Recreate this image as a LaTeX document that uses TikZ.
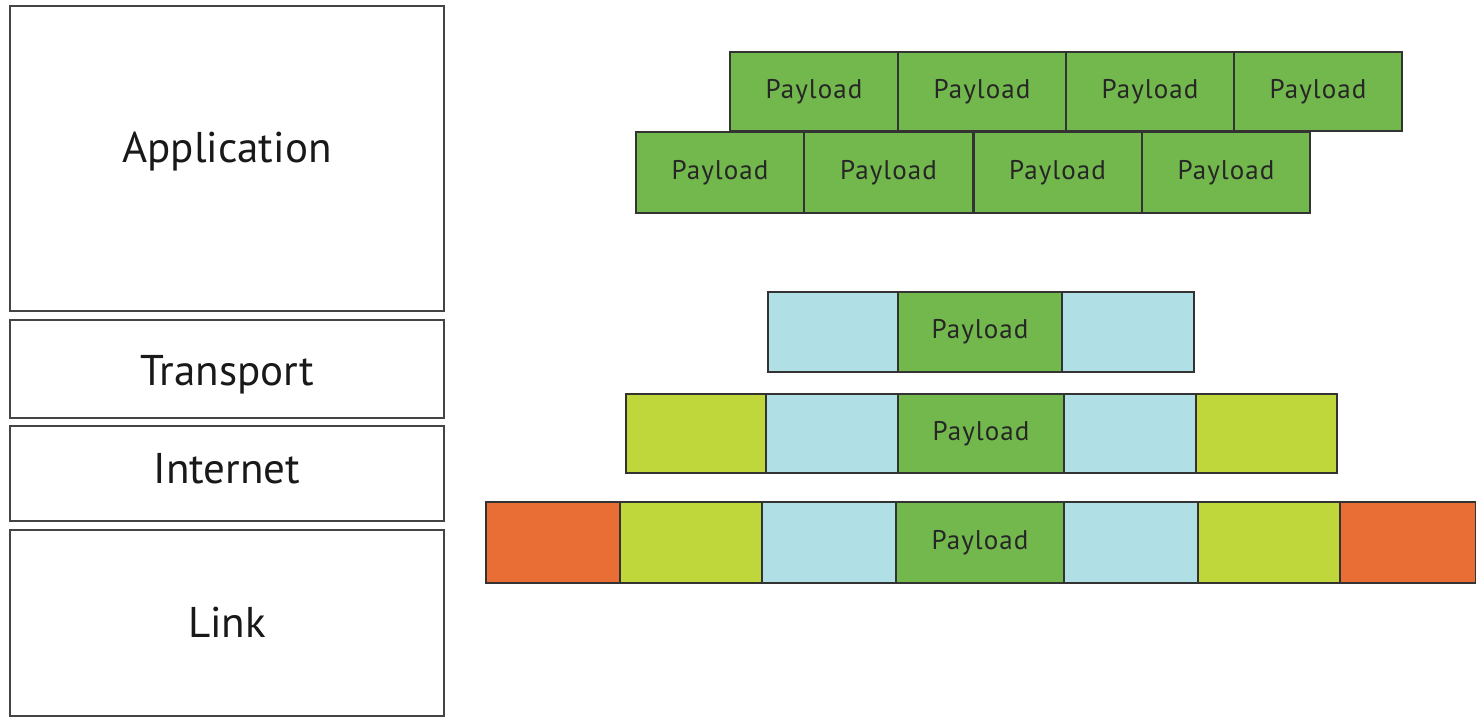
\documentclass[tikz,border=0pt]{standalone}
\usepackage{fontspec}
\setmainfont{PT Sans}
\newfontfamily\payfont[LetterSpace=4]{PT Sans}
\definecolor{pgreen}{HTML}{72B84C}
\definecolor{pblue}{HTML}{B0DFE5}
\definecolor{plime}{HTML}{BFD73B}
\definecolor{porange}{HTML}{E96E35}
\definecolor{edge}{HTML}{333333}
\definecolor{ledge}{HTML}{444444}
\tikzset{
  layer/.style={draw=ledge, line width=1.8pt, fill=white, inner sep=0pt},
  layertext/.style={inner sep=0pt, font=\fontsize{43}{45}\selectfont, text=black!90},
  cell/.style={draw=edge, line width=1.6pt, inner sep=0pt,
    font=\payfont\fontsize{27}{29}\selectfont, text=black!85},
}
\newcommand\cellbox[7]{%
  \node[cell, fill=#6, minimum width={(#4-#2)*1pt}, minimum height={(#5-#3)*1pt}]
    (#1) at ({(#2+#4)/2},{(#3+#5)/2}) {#7};}
\newcommand\layerbox[5]{%
  \node[layer, minimum width={(#4-#2)*1pt}, minimum height={(#5-#3)*1pt}]
    (#1) at ({(#2+#4)/2},{(#3+#5)/2}) {};}
\begin{document}
\begin{tikzpicture}[x=1pt,y=-1pt]
\useasboundingbox (0,0) rectangle (1477,717);
% layers
\layerbox{app}{10}{6}{444}{311}
\layerbox{tra}{10}{320}{444}{418}
\layerbox{int}{10}{426}{444}{521}
\layerbox{lnk}{10}{530}{444}{716}
\node[layertext] (appt) at (227,152) {Application};
\node[layertext] (trat) at (227,375) {Transport};
\node[layertext] (intt) at (227,469) {Internet};
\node[layertext] (lnkt) at (227,622) {Link};
% application row 1
\cellbox{a1}{730}{52}{898}{131}{pgreen}{Payload}
\cellbox{a2}{898}{52}{1066}{131}{pgreen}{Payload}
\cellbox{a3}{1066}{52}{1234}{131}{pgreen}{Payload}
\cellbox{a4}{1234}{52}{1402}{131}{pgreen}{Payload}
% application row 2
\cellbox{b1}{636}{132}{804}{213}{pgreen}{Payload}
\cellbox{b2}{804}{132}{973}{213}{pgreen}{Payload}
\cellbox{b3}{973}{132}{1142}{213}{pgreen}{Payload}
\cellbox{b4}{1142}{132}{1310}{213}{pgreen}{Payload}
\draw[edge, line width=3pt] (b2.north east) -- (b2.south east);
% transport
\cellbox{t1}{768}{292}{898}{372}{pblue}{}
\cellbox{t2}{898}{292}{1062}{372}{pgreen}{Payload}
\cellbox{t3}{1062}{292}{1194}{372}{pblue}{}
% internet
\cellbox{i1}{626}{394}{766}{473}{plime}{}
\cellbox{i2}{766}{394}{898}{473}{pblue}{}
\cellbox{i3}{898}{394}{1064}{473}{pgreen}{Payload}
\cellbox{i4}{1064}{394}{1196}{473}{pblue}{}
\cellbox{i5}{1196}{394}{1337}{473}{plime}{}
% link
\cellbox{l1}{486}{502}{620}{583}{porange}{}
\cellbox{l2}{620}{502}{762}{583}{plime}{}
\cellbox{l3}{762}{502}{896}{583}{pblue}{}
\cellbox{l4}{896}{502}{1064}{583}{pgreen}{Payload}
\cellbox{l5}{1064}{502}{1198}{583}{pblue}{}
\cellbox{l6}{1198}{502}{1340}{583}{plime}{}
\cellbox{l7}{1340}{502}{1475.5}{583}{porange}{}
\end{tikzpicture}
\end{document}
